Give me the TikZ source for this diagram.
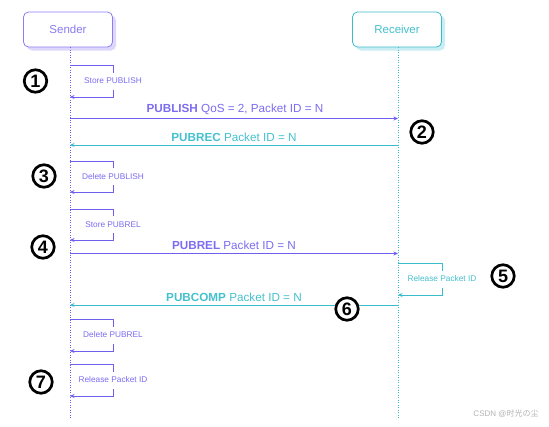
\documentclass[tikz,border=0pt]{standalone}
\usepackage{fontspec}
\setmainfont{Liberation Sans}
\newfontfamily\cjk{Noto Sans CJK SC}
\usetikzlibrary{shadows,arrows.meta}
\definecolor{pur}{HTML}{6E5FF0}
\definecolor{purtxt}{HTML}{7B6CF2}
\definecolor{purlight}{HTML}{DCD7FB}
\definecolor{cy}{HTML}{3BBCCB}
\definecolor{cytxt}{HTML}{45C0CE}
\definecolor{cylight}{HTML}{C8EDF2}
\begin{document}
\begin{tikzpicture}[x=1pt,y=-1pt,
  actor/.style={draw, rounded corners=5pt, minimum width=89pt, minimum height=35pt, fill=white,
    line width=0.8pt, font=\fontsize{11.5}{13}\selectfont},
  lifeline/.style={line width=0.8pt, dash pattern=on 1pt off 1.5pt},
  msg/.style={line width=0.8pt, -{Stealth[length=4.5pt,width=4pt]}},
  selfloop/.style={line width=0.8pt, -{Stealth[length=4.5pt,width=4pt]}},
  looplabel/.style={fill=white, inner xsep=1pt, inner ysep=0pt, minimum height=17pt,
    font=\fontsize{8.3}{10}\selectfont},
  msglabel/.style={font=\fontsize{11.7}{13}\selectfont, inner sep=0pt},
  stepmark/.style={circle, draw=black, line width=2.7pt, fill=white, minimum size=22.5pt, inner sep=0pt,
    font=\bfseries\fontsize{18}{18}\selectfont}
]
\useasboundingbox (0,0) rectangle (549,426);

% actors
\node[actor, draw=pur!80, text=purtxt!90, drop shadow={shadow xshift=3.5pt, shadow yshift=-3.5pt, fill=purlight, opacity=1}]
  (sender) at (68,29.5) {Sender};
\node[actor, draw=cy, text=cytxt, drop shadow={shadow xshift=3.5pt, shadow yshift=-3.5pt, fill=cylight, opacity=1}]
  (receiver) at (397,29.5) {Receiver};

\coordinate (sEnd) at (70,418);
\coordinate (rEnd) at (398,419);
\draw[lifeline, pur] (sender.south -| sEnd) -- (sEnd);
\draw[lifeline, cy] (receiver.south -| rEnd) -- (rEnd);

% lifeline points
\coordinate (s1a) at (70,65);   \coordinate (s1b) at (70,97);
\coordinate (sPub) at (70,118.5); \coordinate (rPub) at (398,118.5);
\coordinate (rRec) at (398,145);  \coordinate (sRec) at (70,145);
\coordinate (s3a) at (70,161);  \coordinate (s3b) at (70,192);
\coordinate (s4a) at (70,209);  \coordinate (s4b) at (70,240);
\coordinate (sRel) at (70,253.5); \coordinate (rRel) at (398,253.5);
\coordinate (r5a) at (398,263); \coordinate (r5b) at (398,295);
\coordinate (rComp) at (398,305); \coordinate (sComp) at (70,305);
\coordinate (s6a) at (70,319);  \coordinate (s6b) at (70,351);
\coordinate (s7a) at (70,364);  \coordinate (s7b) at (70,396);

% self loops on sender
\draw[selfloop, pur] (s1a) -- ++(43,0) |- node[pos=0.25, looplabel, text=purtxt]{Store PUBLISH} (s1b);
\draw[selfloop, pur] (s3a) -- ++(43,0) |- node[pos=0.25, looplabel, text=purtxt]{Delete PUBLISH} (s3b);
\draw[selfloop, pur] (s4a) -- ++(43,0) |- node[pos=0.25, looplabel, text=purtxt]{Store PUBREL} (s4b);
\draw[selfloop, pur] (s6a) -- ++(43,0) |- node[pos=0.25, looplabel, text=purtxt]{Delete PUBREL} (s6b);
\draw[selfloop, pur] (s7a) -- ++(43,0) |- node[pos=0.25, looplabel, text=purtxt]{Release Packet ID} (s7b);
% self loop on receiver
\draw[selfloop, cy] (r5a) -- ++(44,0) |- node[pos=0.25, looplabel, text=cytxt]{Release Packet ID} (r5b);

% messages
\draw[msg, pur] (sPub) -- node[msglabel, text=purtxt, above=3pt, xshift=1pt]{\textbf{PUBLISH} QoS = 2, Packet ID = N} (rPub);
\draw[msg, cy] (rRec) -- node[msglabel, text=cytxt, above=3pt]{\textbf{PUBREC} Packet ID = N} (sRec);
\draw[msg, pur] (sRel) -- node[msglabel, text=purtxt, above=3pt]{\textbf{PUBREL} Packet ID = N} (rRel);
\draw[msg, cy] (rComp) -- node[msglabel, text=cytxt, above=3pt]{\textbf{PUBCOMP} Packet ID = N} (sComp);

% step markers
\node[stepmark] (n1) at (35.5,81) {1};
\node[stepmark] (n2) at (422,132) {2};
\node[stepmark] (n3) at (44,176) {3};
\node[stepmark] (n4) at (43,247) {4};
\node[stepmark] (n5) at (503,276) {5};
\node[stepmark] (n6) at (347,309) {6};
\node[stepmark] (n7) at (41,382) {7};

% watermark
\node[text=black!30, font=\fontsize{8}{9}\selectfont, inner sep=0pt] (wm) at (506,414) {CSDN @{\cjk 时光の尘}};
\end{tikzpicture}
\end{document}
